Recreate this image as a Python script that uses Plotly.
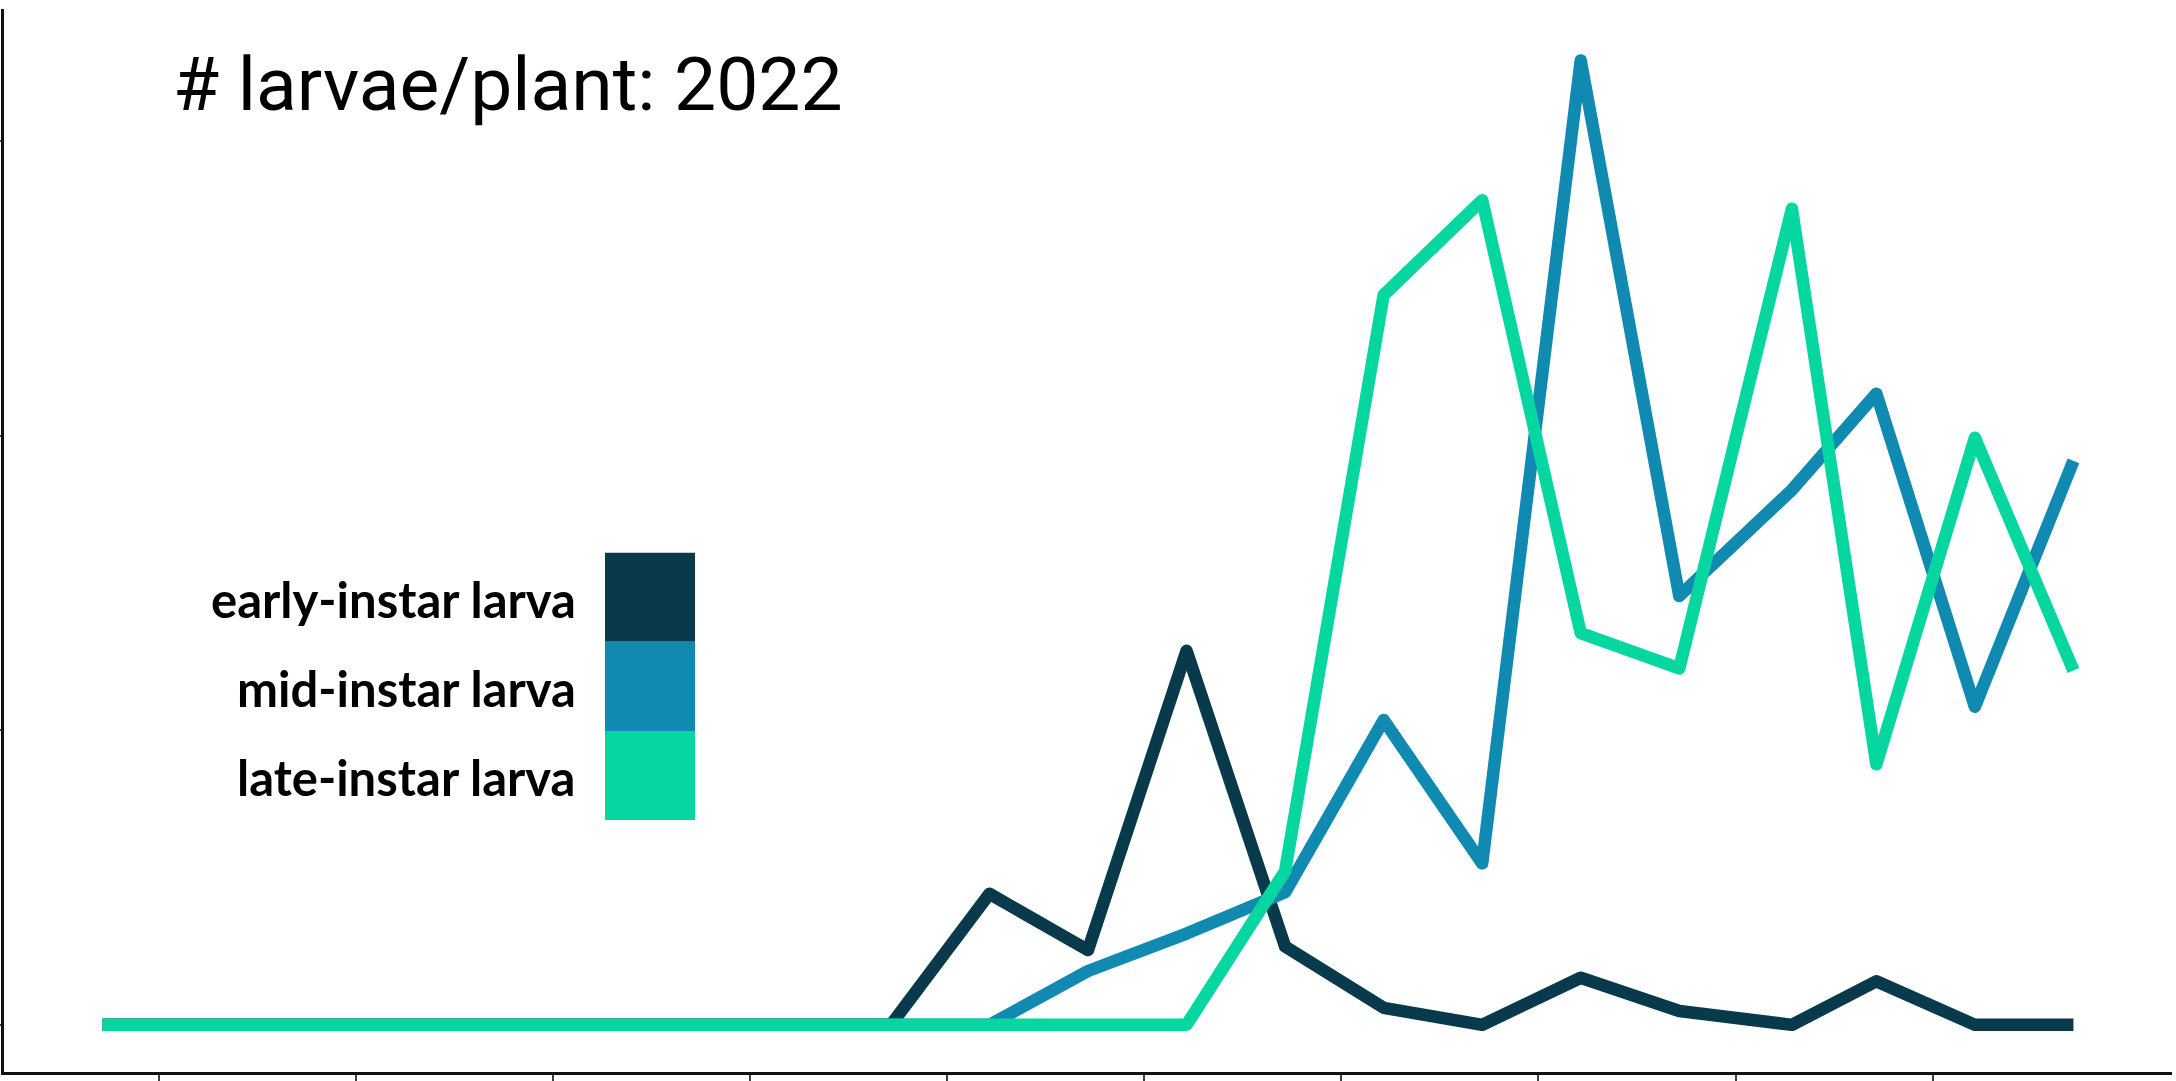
import plotly.graph_objects as go

# ---- data ----
dates = [
    "2022-04-04", "2022-04-11", "2022-04-18", "2022-04-25", "2022-05-02",
    "2022-05-09", "2022-05-16", "2022-05-23", "2022-05-30", "2022-06-06",
    "2022-06-13", "2022-06-20", "2022-06-27", "2022-07-04", "2022-07-11",
    "2022-07-18", "2022-07-25", "2022-08-02", "2022-08-08", "2022-08-15",
    "2022-08-22",
]
early_instar = [0, 0, 0, 0, 0, 0, 0, 0, 0, 0.445, 0.254, 1.27, 0.266, 0.058,
                0.0, 0.16, 0.047, 0.0, 0.148, 0.0, 0.0]
mid_instar = [0, 0, 0, 0, 0, 0, 0, 0, 0, 0, 0.183, 0.31, 0.45, 1.035,
              0.548, 3.274, 1.456, 1.816, 2.143, 1.08, 1.915]
late_instar = [0, 0, 0, 0, 0, 0, 0, 0, 0, 0, 0, 0, 0.522, 2.478,
               2.80, 1.33, 1.21, 2.771, 0.885, 1.993, 1.203]

x_tick_dates = [
    "2022-04-08", "2022-04-22", "2022-05-06", "2022-05-20", "2022-06-03",
    "2022-06-17", "2022-07-01", "2022-07-15", "2022-07-29", "2022-08-12",
]
y_tick_vals = [0, 1, 2, 3]

series_names = ["early-instar larva", "mid-instar larva", "late-instar larva"]
series_colors = ["#083A4B", "#118AB2", "#06D6A0"]
title_text = "# larvae/plant: 2022"

W, H = 2176, 1081
ML, MR, MT, MB = 4, 4, 9, 9
PW, PH = W - ML - MR, H - MT - MB


def px(x):
    return (x - ML) / PW


def py(y):
    return 1 - (y - MT) / PH


fig = go.Figure()
for name, vals, col in zip(series_names, [early_instar, mid_instar, late_instar], series_colors):
    fig.add_trace(go.Scatter(
        x=dates, y=vals, mode="lines", name=name,
        line=dict(color=col, width=12.5), showlegend=False,
    ))

# title text
fig.add_annotation(
    x=px(171), y=py(84), xref="paper", yref="paper",
    xanchor="left", yanchor="middle", showarrow=False,
    text=title_text, font=dict(family="Roboto", size=75, color="#000000"),
)

# custom legend: labels + colour blocks
box_top = 552.7
box_h = 89.1
for i, (name, col) in enumerate(zip(series_names, series_colors)):
    t = box_top + i * box_h
    fig.add_shape(
        type="rect", xref="paper", yref="paper",
        x0=px(605), x1=px(695), y0=py(t), y1=py(t + box_h),
        fillcolor=col, line=dict(width=0),
    )
    fig.add_annotation(
        x=px(578), y=py(t + box_h / 2 + 2), xref="paper", yref="paper",
        xanchor="right", yanchor="middle", showarrow=False,
        text=f"<b>{name}</b>", font=dict(family="Lato", size=49, color="#000000"),
    )

fig.update_layout(
    width=W, height=H,
    margin=dict(l=ML, r=MR, t=MT, b=MB, pad=0, autoexpand=False),
    paper_bgcolor="white", plot_bgcolor="white",
    xaxis=dict(
        type="date", range=["2022-03-28", "2022-08-29"],
        tickmode="array", tickvals=x_tick_dates,
        showgrid=False, zeroline=False, showticklabels=False, automargin=False,
        showline=True, linecolor="#111111", linewidth=2.5,
        ticks="outside", ticklen=8, tickwidth=2, tickcolor="#404040",
    ),
    yaxis=dict(
        range=[-0.16, 3.449], tickmode="array", tickvals=y_tick_vals,
        showgrid=False, zeroline=False, showticklabels=False, automargin=False,
        showline=True, linecolor="#111111", linewidth=2.5,
        ticks="outside", ticklen=8, tickwidth=2, tickcolor="#404040",
    ),
)

fig.write_html(
    "out.html",
    config={"displayModeBar": False},
    post_script=(
        "document.body.style.margin='0';document.body.style.overflow='hidden';"
        "document.querySelectorAll('.js-line').forEach(function(p){"
        "p.style.strokeLinejoin='round';});"
    ),
)
